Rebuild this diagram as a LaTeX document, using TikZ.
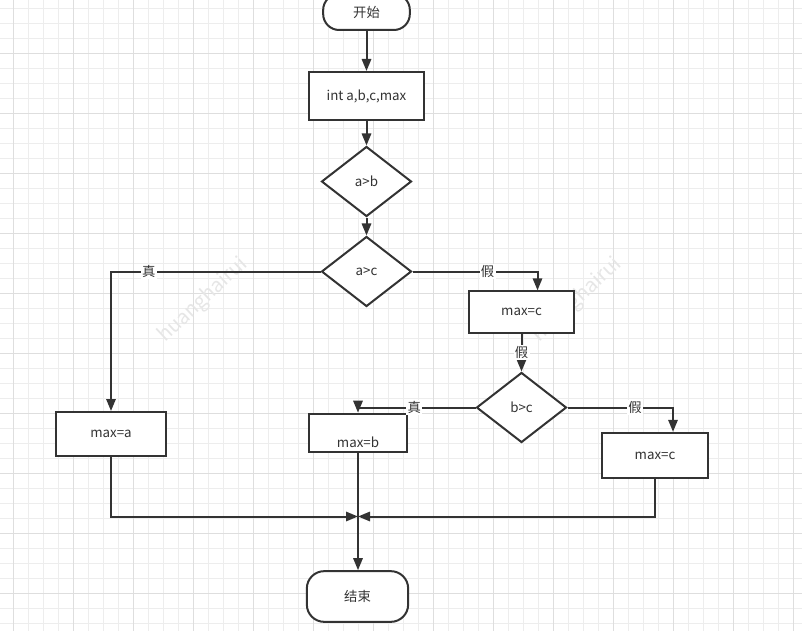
\documentclass[tikz,border=0pt]{standalone}
\usepackage{fontspec}
\setmainfont{Noto Sans CJK SC}
\usetikzlibrary{arrows.meta,shapes.geometric,calc}
\definecolor{ink}{HTML}{333333}
\definecolor{gridmin}{HTML}{EDEDED}
\definecolor{gridmaj}{HTML}{DEDEDE}
\definecolor{wmark}{HTML}{E6E6E6}

\begin{document}
\begin{tikzpicture}[
		x=0.75pt,y=-0.75pt,
		font=\fontsize{10}{12}\selectfont,
		term/.style={draw=ink,line width=1.5pt,fill=white,text=ink,rounded corners=12pt,minimum width=65pt,minimum height=27pt},
		proc/.style={draw=ink,line width=1.5pt,fill=white,text=ink,minimum width=79pt,minimum height=31pt},
		cond/.style={draw=ink,line width=1.5pt,fill=white,text=ink,diamond,aspect=1.29,inner sep=0pt,minimum width=67.5pt,minimum height=52.5pt},
		flow/.style={-{Triangle[length=9pt,width=7pt]},draw=ink,line width=1.5pt},
		tag/.style={fill=white,text=ink,inner sep=1pt},
		wm/.style={text=wmark,font=\fontsize{15}{15}\selectfont,rotate=43}
		]
		\clip (0,0) rectangle (802,631);
		\fill[white] (0,0) rectangle (802,631);
		\foreach \i in {0,...,52} \draw[gridmin,line width=0.75pt] ({13.3+15*\i},0) -- ({13.3+15*\i},631);
		\foreach \i in {0,...,41} \draw[gridmin,line width=0.75pt] (0,{8.3+15*\i}) -- (802,{8.3+15*\i});
		\foreach \i in {0,...,13} \draw[gridmaj,line width=0.75pt] ({13.3+60*\i},0) -- ({13.3+60*\i},631);
		\foreach \i in {0,...,9} \draw[gridmaj,line width=0.75pt] (0,{53.3+60*\i}) -- (802,{53.3+60*\i});

		\node[wm] (wm1) at (203,300) {huanghairui};
		\node[wm] (wm2) at (577,300) {huanghairui};

		\node[term] (start) at (366.5,12) {开始};
		\node[proc,minimum width=86pt,minimum height=36pt] (decl) at (366.5,96) {int a,b,c,max};
		\node[cond] (ab) at (366.5,181.5) {a>b};
		\node[cond] (ac) at (366.5,271.5) {a>c};
		\node[proc] (maxc) at (521.5,312) {max=c};
		\node[cond] (bc) at (521.5,407.5) {b>c};
		\node[proc,minimum width=73pt,minimum height=29pt,label={[text=ink,yshift=-7pt]center:max=b}] (maxb) at (358,433) {};
		\node[proc,minimum height=34pt] (maxc2) at (655,455.5) {max=c};
		\node[proc,minimum width=83pt,minimum height=33pt] (maxa) at (111,434) {max=a};
		\node[term,minimum width=76pt,minimum height=38pt,rounded corners=13pt] (end) at (357.5,596.5) {结束};
		\coordinate (join) at (358,516.5);

		\draw[flow] (start) -- (decl);
		\draw[flow] (decl) -- (ab);
		\draw[flow] (ab) -- (ac);
		\draw[flow] (ac.west) -| (maxa.north) node[tag,pos=0.41]{真};
		\draw[flow] (ac.east) -| ([xshift=12pt]maxc.north) node[tag,pos=0.3]{假};
		\draw[flow] (maxc) -- (bc) node[tag,midway]{假};
		\draw[flow] (bc.west) -| (maxb.north) node[tag,pos=0.26]{真};
		\draw[flow] (bc.east) -| ([xshift=13.5pt]maxc2.north) node[tag,pos=0.32]{假};
		\draw[flow] (maxa) |- (join);
		\draw[flow] (maxc2) |- (join);
		\draw[flow] (maxb.south) -- (maxb.south |- end.north);
	\end{tikzpicture}
\end{document}
